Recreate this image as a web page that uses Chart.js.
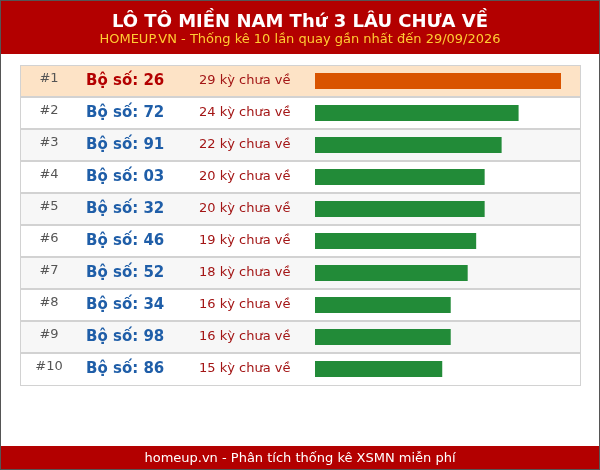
<!DOCTYPE html>
<html>
<head>
<meta charset="utf-8">
<script src="https://cdn.jsdelivr.net/npm/chart.js@4"></script>
<style>
  html, body { margin: 0; padding: 0; background: #fff; }
  #wrap { width: 600px; height: 470px; position: relative; }
</style>
</head>
<body>
<div id="wrap"><canvas id="chart"></canvas></div>
<script>
const title = 'LÔ TÔ MIỀN NAM Thứ 3 LÂU CHƯA VỀ';
const subtitle = 'HOMEUP.VN - Thống kê 10 lần quay gần nhất đến 29/09/2026';
const footer = 'homeup.vn - Phân tích thống kê XSMN miễn phí';

const ranks = ['#1', '#2', '#3', '#4', '#5', '#6', '#7', '#8', '#9', '#10'];
const numbers = ['26', '72', '91', '03', '32', '46', '52', '34', '98', '86'];
const missedDraws = [29, 24, 22, 20, 20, 19, 18, 16, 16, 15];

const FONT = '"DejaVu Sans", Verdana, sans-serif';

// backgrounds, header, footer and row frames
const tablePlugin = {
  id: 'tablePlugin',
  beforeDraw(chart) {
    const ctx = chart.ctx;
    const W = chart.width, H = chart.height;
    const yScale = chart.scales.y;
    ctx.save();
    ctx.fillStyle = '#ffffff';
    ctx.fillRect(0, 0, W, H);

    // header
    ctx.fillStyle = '#b30000';
    ctx.fillRect(0, 0, W, 54);
    // footer
    ctx.fillRect(0, 446, W, H - 446);

    const rowH = yScale.getPixelForValue(1) - yScale.getPixelForValue(0);
    const top0 = yScale.getPixelForValue(0) - rowH / 2;
    for (let i = 0; i < numbers.length; i++) {
      const y = top0 + i * rowH;
      ctx.fillStyle = i === 0 ? '#fde3c6' : (i % 2 === 0 ? '#f7f7f7' : '#ffffff');
      ctx.fillRect(20, y, 560, rowH);
    }
    ctx.strokeStyle = '#d2d2d2';
    ctx.lineWidth = 1;
    ctx.strokeRect(20.5, top0 + 0.5, 560, rowH * numbers.length);
    ctx.lineWidth = 2;
    for (let i = 1; i < numbers.length; i++) {
      const y = top0 + i * rowH;
      ctx.beginPath();
      ctx.moveTo(20, y);
      ctx.lineTo(581, y);
      ctx.stroke();
    }

    // outer frame
    ctx.strokeStyle = '#555555';
    ctx.lineWidth = 1;
    ctx.strokeRect(0.5, 0.5, W - 1, H - 1);
    ctx.restore();
  },
  afterDraw(chart) {
    const ctx = chart.ctx;
    const W = chart.width;
    const yScale = chart.scales.y;
    ctx.save();
    ctx.textAlign = 'center';
    ctx.textBaseline = 'middle';
    ctx.fillStyle = '#ffffff';
    ctx.font = 'bold 18px ' + FONT;
    ctx.fillText(title, W / 2, 22);
    ctx.fillStyle = '#ffcc33';
    ctx.font = '13px ' + FONT;
    ctx.fillText(subtitle, W / 2, 40);
    ctx.fillStyle = '#ffffff';
    ctx.fillText(footer, W / 2, 459);

    for (let i = 0; i < numbers.length; i++) {
      const y = yScale.getPixelForValue(i);
      ctx.textAlign = 'center';
      ctx.fillStyle = '#555555';
      ctx.font = '13px ' + FONT;
      ctx.fillText(ranks[i], 49, y - 2);

      ctx.textAlign = 'left';
      ctx.fillStyle = i === 0 ? '#b30000' : '#1f5ea8';
      ctx.font = 'bold 15px ' + FONT;
      ctx.fillText('Bộ số: ' + numbers[i], 86, y);

      ctx.fillStyle = '#a31515';
      ctx.font = '13px ' + FONT;
      ctx.fillText(missedDraws[i] + ' kỳ chưa về', 199, y);
    }
    ctx.restore();
  }
};

new Chart(document.getElementById('chart'), {
  type: 'bar',
  data: {
    labels: numbers,
    datasets: [{
      data: missedDraws,
      backgroundColor: missedDraws.map((v, i) => i === 0 ? '#d95400' : '#228b38'),
      barPercentage: 0.5,
      categoryPercentage: 1.0,
      borderWidth: 0
    }]
  },
  options: {
    indexAxis: 'y',
    responsive: true,
    maintainAspectRatio: false,
    animation: false,
    layout: { padding: { left: 315, right: 39, top: 65, bottom: 85 } },
    plugins: {
      legend: { display: false },
      tooltip: { enabled: false }
    },
    scales: {
      x: { display: false, min: 0, max: Math.max(...missedDraws) },
      y: { display: false }
    }
  },
  plugins: [tablePlugin]
});
</script>
</body>
</html>
